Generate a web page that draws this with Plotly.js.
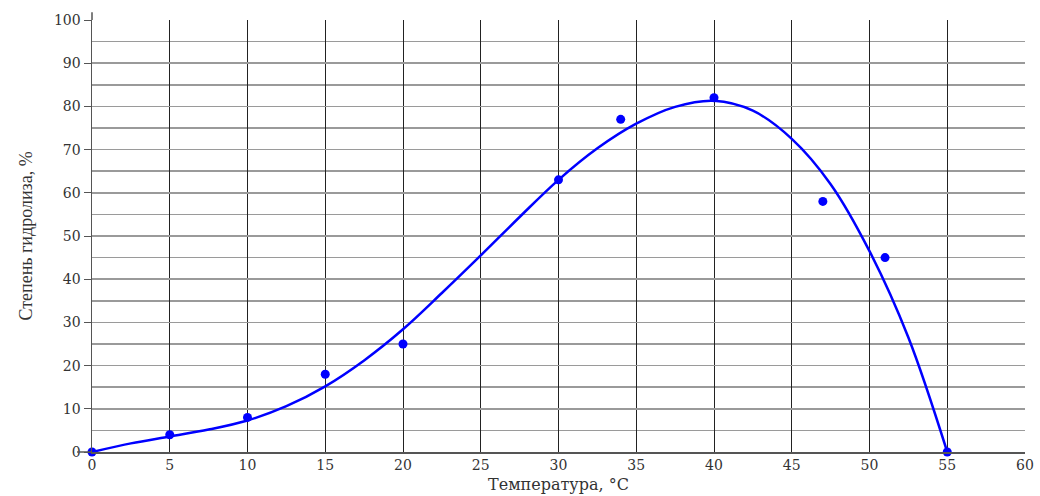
<!DOCTYPE html>
<html>
<head>
<meta charset="utf-8">
<script src="https://cdn.plot.ly/plotly-3.0.1.min.js"></script>
<style>html,body{margin:0;padding:0;background:#fff;}#chart{width:1040px;height:496px;}</style>
</head>
<body>
<div id="chart"></div>
<script>
// Measured points
const tempPoints = [0, 5, 10, 15, 20, 30, 34, 40, 47, 51, 55];
const hydroPoints = [0, 4, 8, 18, 25, 63, 77, 82, 58, 45, 0];
// Fitted curve
const curveTemp = [0, 2.5, 5, 7.5, 10, 12.5, 15, 17.5, 20, 22.5, 25, 27.5, 30, 32.5, 35, 37.5, 40, 42.5, 45, 47.5, 50, 52.5, 55];
const curveHydro = [0, 2, 3.6, 5.2, 7.3, 10.6, 15.2, 21.2, 28.4, 36.8, 45.5, 54.4, 63, 70.3, 76, 79.9, 81.3, 79, 72.5, 62, 46.5, 26.5, 0];
const xTicks = [0, 5, 10, 15, 20, 25, 30, 35, 40, 45, 50, 55, 60];
const yTicks = [0, 10, 20, 30, 40, 50, 60, 70, 80, 90, 100];
const xTitle = 'Температура, °C';
const yTitle = 'Степень гидролиза, %';

const traces = [
  {x: curveTemp, y: curveHydro, type: 'scatter', mode: 'lines',
   line: {color: '#0000ff', width: 2.5, shape: 'spline', smoothing: 1.0}, hoverinfo: 'skip'},
  {x: tempPoints, y: hydroPoints, type: 'scatter', mode: 'markers',
   marker: {color: '#0000ff', size: 9}, cliponaxis: false}
];

const layout = {
  width: 1040, height: 496,
  margin: {l: 92, r: 15, t: 20, b: 44},
  paper_bgcolor: '#fff', plot_bgcolor: '#fff',
  showlegend: false,
  font: {family: '"DejaVu Serif", "Liberation Serif", serif', color: '#333', size: 14},
  xaxis: {
    range: [0, 60], tickvals: xTicks, ticktext: xTicks.map(String),
    showgrid: true, gridcolor: '#222', gridwidth: 1,
    zeroline: false, showline: true, linecolor: '#555', linewidth: 1.5,
    ticks: '', ticklen: 0,
    tickfont: {family: '"DejaVu Serif", serif', size: 14, color: '#333'},
    title: {text: xTitle, standoff: 6, font: {family: '"DejaVu Serif", serif', size: 16, color: '#333'}}
  },
  yaxis: {
    range: [0, 100], tickvals: yTicks, ticktext: yTicks.map(String),
    showgrid: true, gridcolor: '#9a9a9a', gridwidth: 1.5,
    minor: {dtick: 5, tick0: 0, showgrid: true, gridcolor: '#9a9a9a', gridwidth: 1.5, ticks: ''},
    zeroline: false, showline: true, linecolor: '#555', linewidth: 1.5,
    ticks: 'outside', ticklen: 7, tickcolor: '#555', tickwidth: 1,
    tickfont: {family: '"DejaVu Serif", serif', size: 14, color: '#333'},
    title: {text: yTitle, standoff: 16, font: {family: '"Liberation Serif", serif', size: 18, color: '#333'}}
  },
  shapes: [
    {type: 'line', xref: 'paper', yref: 'paper', x0: -0.016, x1: 0, y0: 0, y1: 0, line: {color: '#555', width: 1.5}},
    {type: 'line', xref: 'paper', yref: 'paper', x0: 0, x1: 0, y0: 1, y1: 1.018, line: {color: '#555', width: 1.5}}
  ]
};

Plotly.newPlot('chart', traces, layout, {displayModeBar: false, staticPlot: true});
</script>
</body>
</html>
